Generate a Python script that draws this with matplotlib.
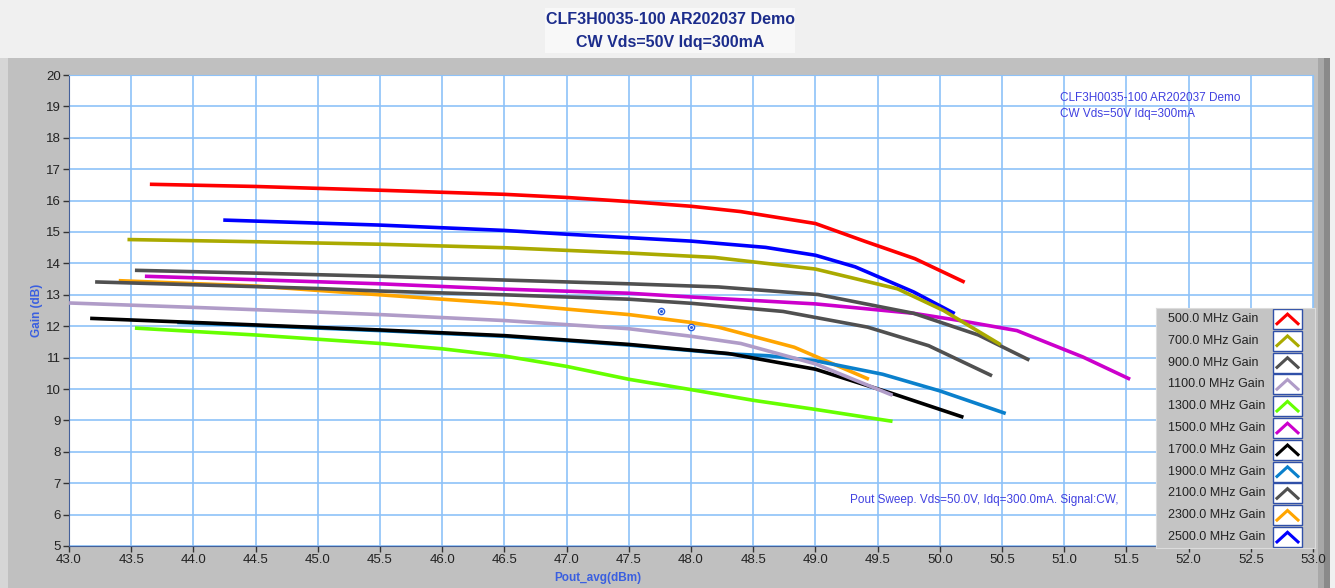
import matplotlib
matplotlib.use("Agg")
import matplotlib.pyplot as plt
from matplotlib.patches import Rectangle

plt.rcParams['font.family'] = ['Liberation Sans', 'DejaVu Sans']

# frequencies and gain curves (Pout dBm, Gain dB)
labels = ["500.0 MHz Gain", "700.0 MHz Gain", "900.0 MHz Gain", "1100.0 MHz Gain",
          "1300.0 MHz Gain", "1500.0 MHz Gain", "1700.0 MHz Gain", "1900.0 MHz Gain",
          "2100.0 MHz Gain", "2300.0 MHz Gain", "2500.0 MHz Gain"]
colors = ["#ff0000", "#aaaa00", "#505050", "#b09cc8", "#66ff00", "#cc00cc",
          "#000000", "#0a80cc", "#505050", "#ffa500", "#0000ff"]

pout_500 = [43.65, 44.5, 45.5, 46.5, 47.0, 47.5, 48.0, 48.4, 49.0, 49.4, 49.8, 50.2]
gain_500 = [16.52, 16.45, 16.33, 16.2, 16.1, 15.97, 15.82, 15.65, 15.27, 14.7, 14.15, 13.4]
pout_700 = [43.47, 44.5, 45.5, 46.5, 47.5, 48.19, 49.0, 49.66, 50.03, 50.49]
gain_700 = [14.76, 14.69, 14.61, 14.5, 14.33, 14.19, 13.82, 13.19, 12.5, 11.41]
pout_900 = [43.53, 44.5, 45.5, 46.5, 47.5, 48.22, 49.02, 49.79, 50.31, 50.72]
gain_900 = [13.78, 13.69, 13.59, 13.47, 13.35, 13.25, 13.01, 12.41, 11.72, 10.92]
pout_1100 = [43.0, 44.0, 45.0, 45.5, 46.5, 47.5, 48.0, 48.4, 49.0, 49.62]
gain_1100 = [12.74, 12.6, 12.45, 12.37, 12.18, 11.92, 11.68, 11.45, 10.8, 9.8]
pout_1300 = [43.53, 44.5, 45.5, 46.0, 46.5, 47.0, 47.5, 48.0, 48.5, 49.0, 49.62]
gain_1300 = [11.94, 11.72, 11.45, 11.28, 11.05, 10.72, 10.31, 9.98, 9.64, 9.35, 8.97]
pout_1500 = [43.61, 44.5, 45.5, 46.5, 47.5, 48.0, 49.0, 49.79, 50.16, 50.62, 51.15, 51.53]
gain_1500 = [13.59, 13.48, 13.35, 13.18, 13.05, 12.93, 12.71, 12.41, 12.18, 11.86, 11.02, 10.31]
pout_1700 = [43.17, 44.0, 45.0, 45.5, 46.5, 47.5, 48.3, 49.0, 49.6, 50.19]
gain_1700 = [12.25, 12.12, 11.96, 11.88, 11.7, 11.42, 11.13, 10.63, 9.88, 9.1]
pout_1900 = [43.87, 45.0, 45.5, 46.5, 47.5, 48.3, 48.62, 49.0, 49.54, 50.0, 50.53]
gain_1900 = [12.12, 11.94, 11.86, 11.68, 11.4, 11.12, 11.06, 10.9, 10.47, 9.94, 9.22]
pout_2100 = [43.21, 44.0, 45.0, 45.5, 46.5, 47.5, 48.0, 48.74, 49.42, 49.91, 50.42]
gain_2100 = [13.41, 13.32, 13.2, 13.12, 13.0, 12.86, 12.73, 12.47, 11.97, 11.38, 10.42]
pout_2300 = [43.4, 44.5, 45.5, 46.5, 47.5, 48.0, 48.22, 48.83, 49.43]
gain_2300 = [13.45, 13.28, 13.0, 12.72, 12.37, 12.12, 11.97, 11.33, 10.31]
pout_2500 = [44.24, 45.5, 46.5, 47.0, 48.0, 48.6, 49.0, 49.32, 49.79, 50.12]
gain_2500 = [15.38, 15.22, 15.05, 14.93, 14.71, 14.51, 14.26, 13.89, 13.09, 12.4]

pouts = [pout_500, pout_700, pout_900, pout_1100, pout_1300, pout_1500,
         pout_1700, pout_1900, pout_2100, pout_2300, pout_2500]
gains = [gain_500, gain_700, gain_900, gain_1100, gain_1300, gain_1500,
         gain_1700, gain_1900, gain_2100, gain_2300, gain_2500]

# graph cursors
cursor_x = [47.76, 48.0]
cursor_y = [12.5, 11.99]

W, H = 1335, 588
fig = plt.figure(figsize=(W / 100, H / 100), dpi=100)
fig.patch.set_facecolor("#f0f0f0")

# panel backgrounds (pixel coords -> figure fraction), kept behind the axes
def px_rect(x0, y0, x1, y1, color):
    fig.patches.append(Rectangle((x0 / W, 1 - y1 / H), (x1 - x0) / W, (y1 - y0) / H,
                                 transform=fig.transFigure, facecolor=color,
                                 edgecolor="none", zorder=-5))

px_rect(0, 58, 1330, 588, "#c0c0c0")
px_rect(0, 58, 8, 588, "#d6d6d6")
px_rect(1318, 58, 1324, 588, "#a8a8a8")
px_rect(1324, 58, 1330, 588, "#8a8a8a")
px_rect(545, 8, 795, 53, "#f8f8f8")

fig.text(670 / W, 1 - 20 / H, "CLF3H0035-100 AR202037 Demo", ha="center", va="center",
         fontsize=11.5, fontweight="bold", color="#1c2d8c")
fig.text(670 / W, 1 - 42 / H, "CW Vds=50V Idq=300mA", ha="center", va="center",
         fontsize=11.5, fontweight="bold", color="#1c2d8c")

ax = fig.add_axes([69 / W, 1 - 546 / H, 1244 / W, 471 / H])
ax.set_facecolor("white")

for i in reversed(range(len(labels))):
    ax.plot(pouts[i], gains[i], color=colors[i], lw=2.6, solid_capstyle="butt",
            solid_joinstyle="round", zorder=3)

ax.plot(cursor_x, cursor_y, linestyle="none", marker="o", markersize=4.5,
        markerfacecolor="white", markeredgecolor="#2a60e0", markeredgewidth=1, zorder=5)
ax.plot(cursor_x, cursor_y, linestyle="none", marker="o", markersize=1.2,
        color="#2a60e0", zorder=6)

ax.set_xlim(43, 53)
ax.set_ylim(5, 20)
ax.set_xticks([43 + 0.5 * k for k in range(21)])
ax.set_xticklabels(["%.1f" % (43 + 0.5 * k) for k in range(21)])
ax.set_yticks(range(5, 21))
ax.grid(True, color="#8ec2f8", lw=1.2, zorder=1)
ax.set_axisbelow(True)
ax.tick_params(axis="both", direction="out", length=4, width=1, color="#333333",
               labelsize=9.5, labelcolor="#222222", pad=2)
for s in ["left", "bottom"]:
    ax.spines[s].set_color("#44609a")
for s in ["top", "right"]:
    ax.spines[s].set_color("#8ec2f8")

fig.text(37 / W, 1 - 310 / H, "Gain (dB)", rotation=90, ha="center", va="center",
         fontsize=8.5, fontweight="bold", color="#3a5fe0")
fig.text(598 / W, 1 - 578 / H, "Pout_avg(dBm)", ha="center", va="center",
         fontsize=8.5, fontweight="bold", color="#3a5fe0")

ax.text(50.97, 19.27, "CLF3H0035-100 AR202037 Demo", fontsize=8.5, color="#4040e0",
        va="center", ha="left", zorder=4)
ax.text(50.97, 18.76, "CW Vds=50V Idq=300mA", fontsize=8.5, color="#4040e0",
        va="center", ha="left", zorder=4)
ax.text(49.28, 6.46, "Pout Sweep. Vds=50.0V, Idq=300.0mA. Signal:CW,", fontsize=8.5,
        color="#4040e0", va="center", ha="left", zorder=4)

# legend drawn as its own panel
lg = fig.add_axes([1156 / W, 1 - 548 / H, 159 / W, 240 / H])
lg.set_facecolor("#c4c4c4")
lg.set_xlim(0, 159)
lg.set_ylim(len(labels), 0)
lg.set_xticks([])
lg.set_yticks([])
for s in lg.spines.values():
    s.set_color("#dcdcdc")
for i, lab in enumerate(labels):
    lg.text(12, i + 0.5, lab, fontsize=9, color="#222222", va="center", ha="left")
    lg.add_patch(Rectangle((117, i + 0.04), 29, 0.92, facecolor="white",
                           edgecolor="#3050a8", lw=1))
    lg.plot([121, 131.5, 142], [i + 0.72, i + 0.28, i + 0.72], color=colors[i], lw=2.2,
            solid_joinstyle="miter")

fig.savefig("out.png", dpi=100, facecolor=fig.get_facecolor())
